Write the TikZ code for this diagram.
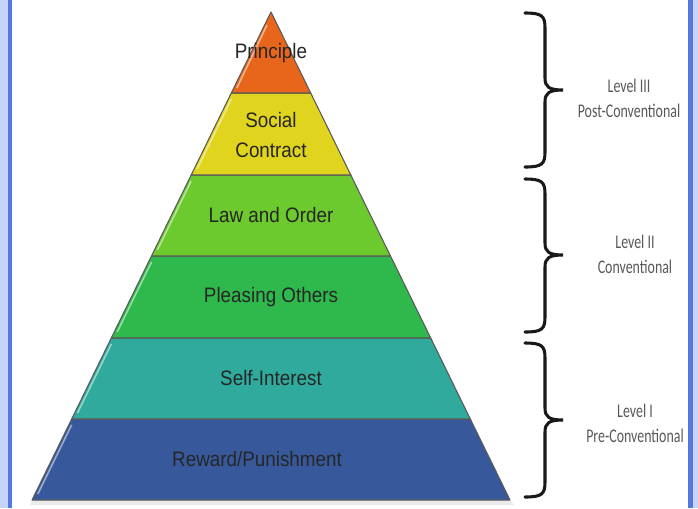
\documentclass[tikz,border=0pt]{standalone}
\usepackage{fontspec}
\newfontfamily\pyrfont[FakeStretch=0.9]{Liberation Sans}
\newfontfamily\lvlfont[FakeStretch=0.72]{Carlito}
\usetikzlibrary{positioning}

\definecolor{cPrin}{HTML}{E8661C}
\definecolor{cSoc}{HTML}{E0D41E}
\definecolor{cLaw}{HTML}{6CC92E}
\definecolor{cPlease}{HTML}{2FB84C}
\definecolor{cSelf}{HTML}{2FAA9C}
\definecolor{cRew}{HTML}{37599B}
\definecolor{frameLight}{HTML}{C6D4FA}
\definecolor{frameDark}{HTML}{5577E0}

\begin{document}
\begin{tikzpicture}[x=0.75pt,y=-0.75pt,
    layer/.style={draw=black!65,line width=0.8pt,line join=round},
    shine/.style={white,opacity=0.5,line width=1.2pt},
    lbl/.style={font=\pyrfont\fontsize{15.7}{22.5}\selectfont,text=black!85,align=center,inner sep=0pt},
    lvl/.style={font=\lvlfont\fontsize{14.5}{18.75}\selectfont,text=black!65,align=center,inner sep=0pt},
    bracket/.style={line width=2.3pt,black!90,line cap=round,line join=miter}]
            \useasboundingbox (0,0) rectangle (698,508);
            
            \fill[frameLight] (0,0) rectangle (8,508);
            \fill[frameDark] (8,0) rectangle (12,508);
            \fill[frameDark] (688,0) rectangle (693,508);
            \fill[frameLight] (693,0) rectangle (698,508);
            
            % shadow under the base
            \fill[black!8] (32,500) -- (510,500) -- (514,505) -- (30,505) -- cycle;
            
            \filldraw[layer,fill=cRew] (71.7,419) -- (470.3,419) -- (510,500) -- (32,500) -- cycle;
            \filldraw[layer,fill=cSelf] (111.3,338) -- (430.7,338) -- (470.3,419) -- (71.7,419) -- cycle;
            \filldraw[layer,fill=cPlease] (151.5,256) -- (390.5,256) -- (430.7,338) -- (111.3,338) -- cycle;
            \filldraw[layer,fill=cLaw] (191.2,175) -- (350.8,175) -- (390.5,256) -- (151.5,256) -- cycle;
            \filldraw[layer,fill=cSoc] (231.3,93) -- (310.7,93) -- (350.8,175) -- (191.2,175) -- cycle;
            \filldraw[layer,fill=cPrin] (271,12) -- (310.7,93) -- (231.3,93) -- cycle;
            
            % light edge on the left of each layer
            \draw[shine] (71.6,425) -- (37.8,494);
            \draw[shine] (111.3,344) -- (77.5,413);
            \draw[shine] (151.5,262) -- (117.2,332);
            \draw[shine] (191.2,181) -- (157.4,250);
            \draw[shine] (231.4,99) -- (197.1,169);
            \draw[shine] (267,25) -- (236.8,88);
            
            \node[lbl] (principle) at (271,53) {Principle};
            \node[lbl] (social) at (271,135) {Social\\Contract};
            \node[lbl] (law) at (271,215) {Law and Order};
            \node[lbl] (pleasing) at (271,297) {Pleasing Others};
            \node[lbl] (self) at (271,378) {Self-Interest};
            \node[lbl] (reward) at (257,459) {Reward/Punishment};
            
            % braces: top, tip, bottom
            \foreach \t/\m/\b/\n in {13/90/167/three,179/255/332/two,343/420/497/one}{
                \coordinate (top\n) at (525,\t);
                \coordinate (tip\n) at (563,\m);
                \coordinate (bot\n) at (525,\b);
                \draw[bracket] (top\n) .. controls (542,\t) and (545,\t+3) .. (545,\t+15)
                    -- (545,\m-12) .. controls (545,\m-3) and (549,\m) .. (tip\n)
                    .. controls (549,\m) and (545,\m+3) .. (545,\m+12)
                    -- (545,\b-15) .. controls (545,\b-3) and (542,\b) .. (bot\n);
            }
            
            \node[lvl] (lvthree) at (629,98) {Level III\\Post-Conventional};
            \node[lvl] (lvtwo) at (635,254) {Level II\\Conventional};
            \node[lvl] (lvone) at (635,423) {Level I\\Pre-Conventional};
        \end{tikzpicture}
\end{document}
